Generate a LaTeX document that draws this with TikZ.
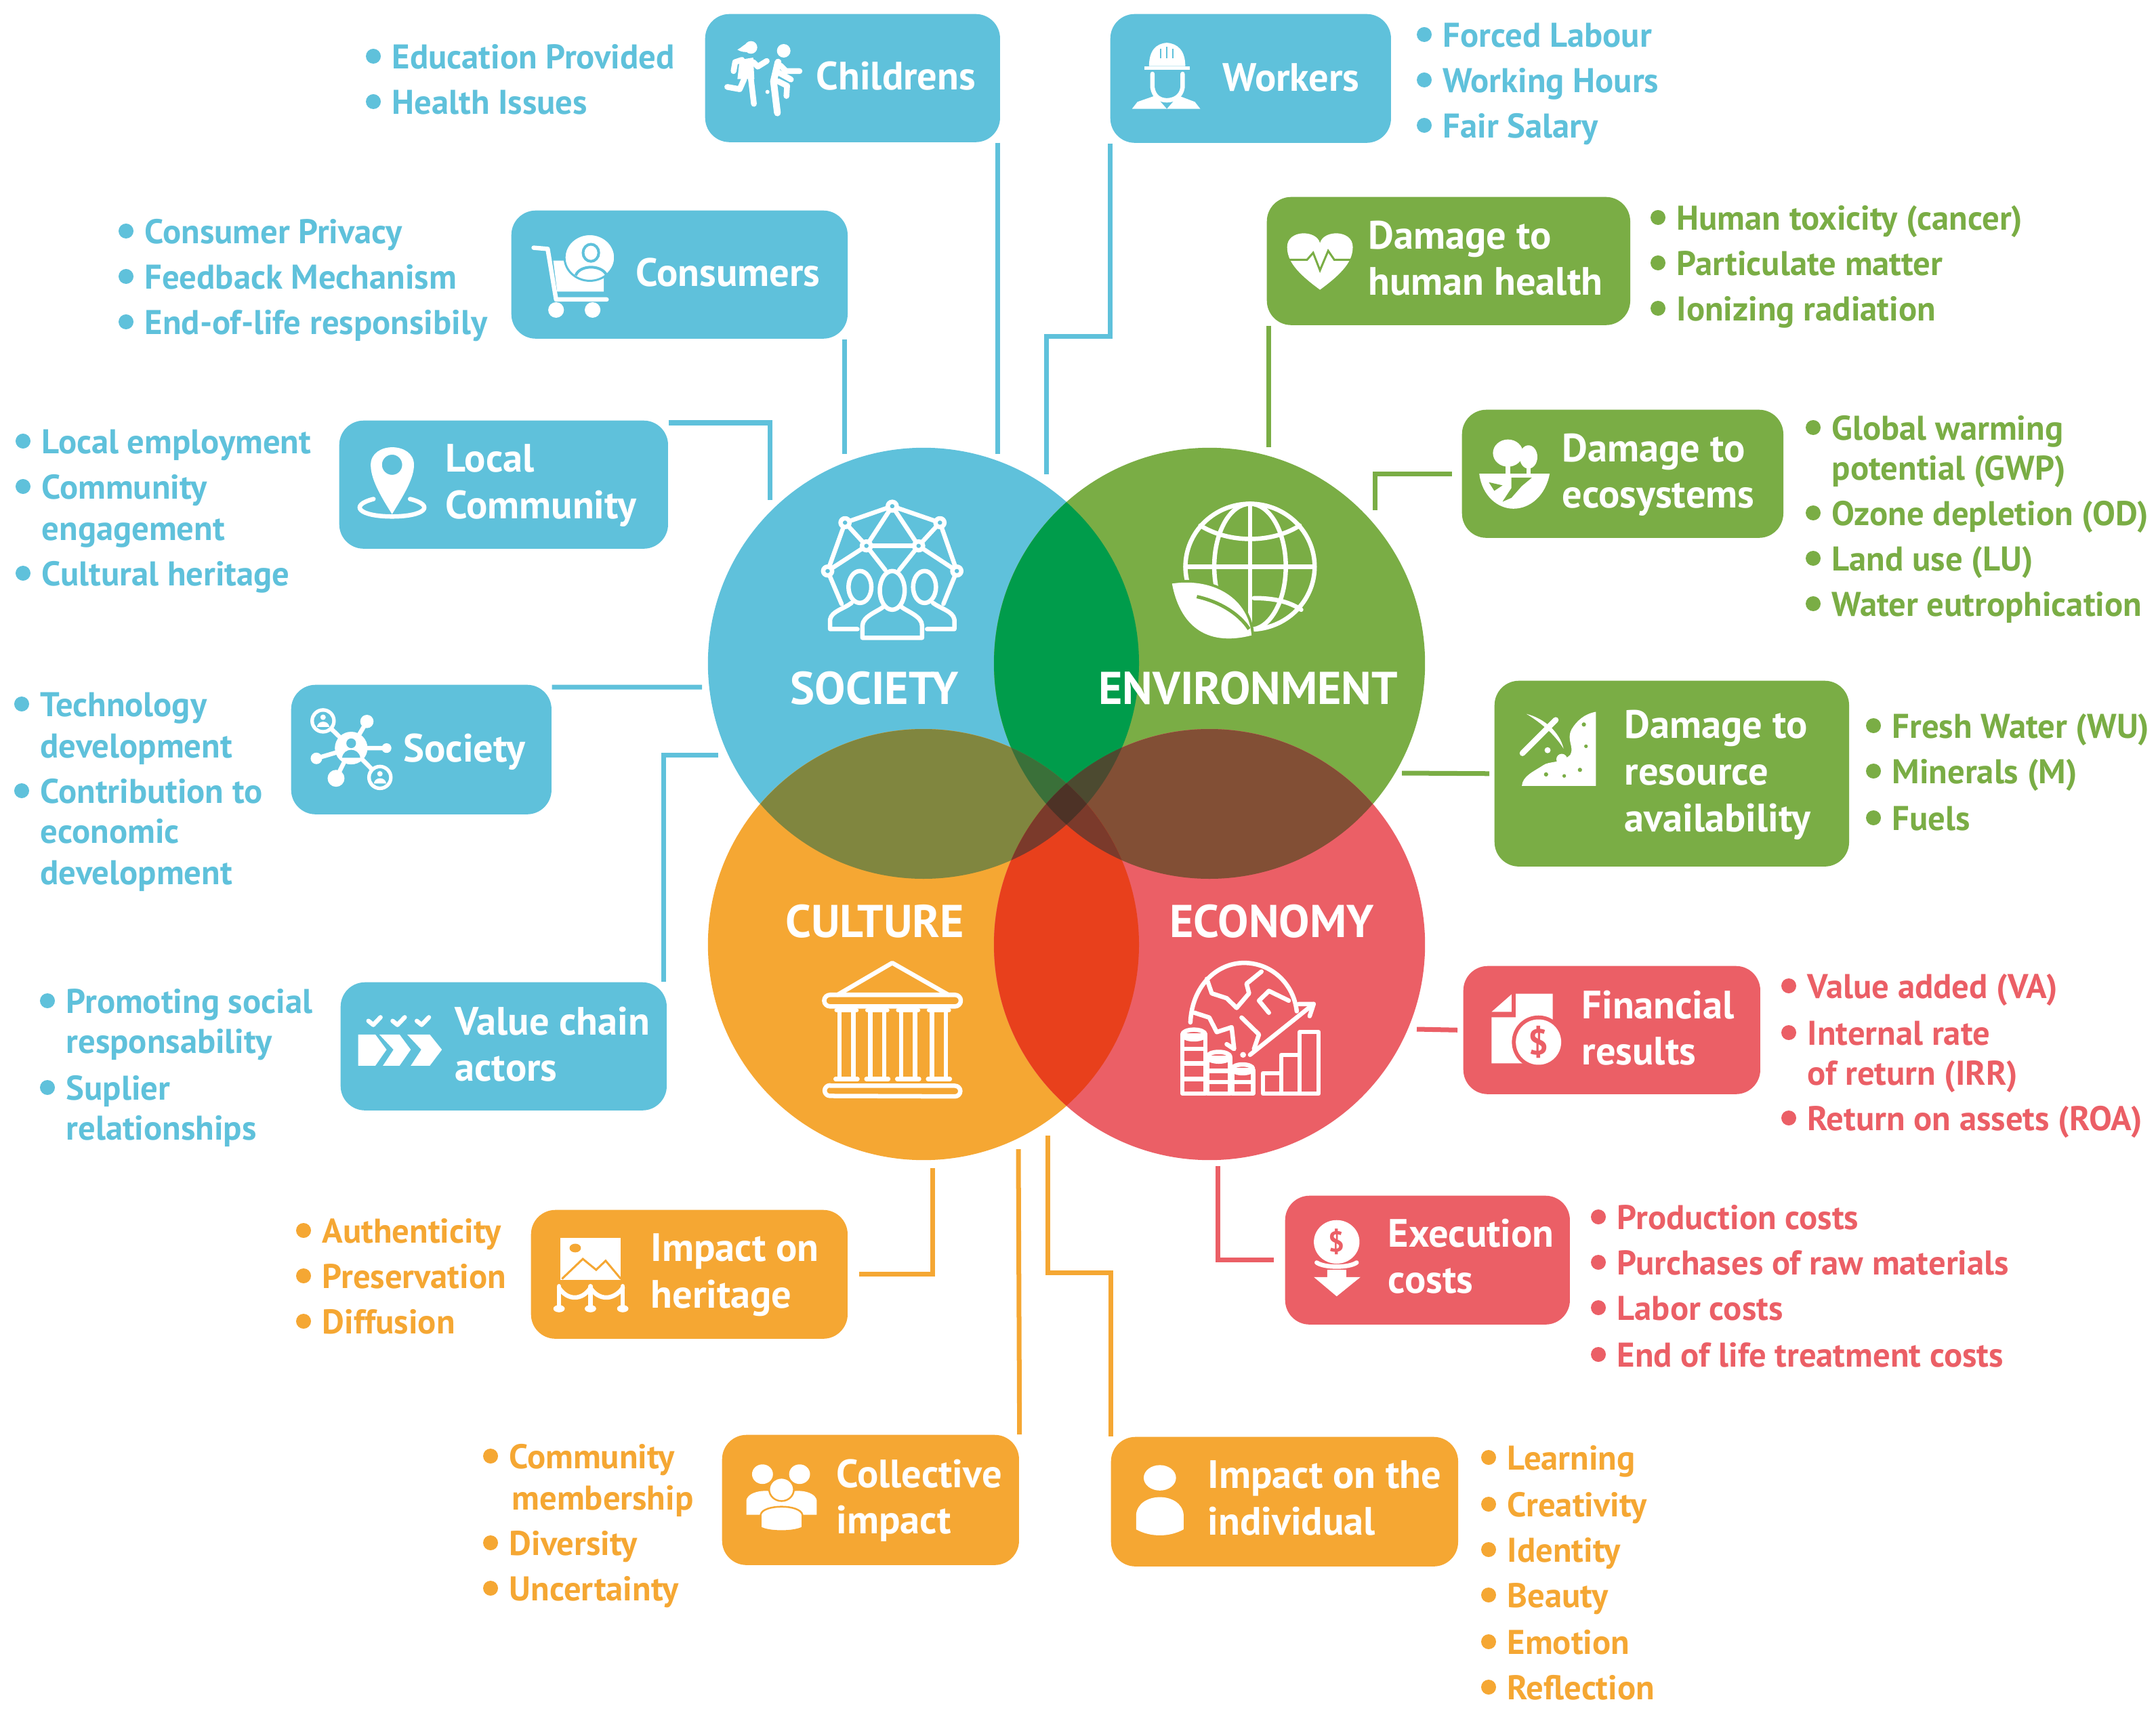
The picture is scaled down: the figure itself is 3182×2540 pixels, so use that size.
\documentclass[tikz,border=0pt]{standalone}
\usepackage{fontspec}
\usepackage{xcolor}
\setmainfont{PT Sans}
\usetikzlibrary{calc, positioning}

\definecolor{socblue}{HTML}{5FC1DB}
\definecolor{envgreen}{HTML}{7AAD45}
\definecolor{culorange}{HTML}{F5A733}
\definecolor{ecored}{HTML}{EB5F66}
\definecolor{lensse}{HTML}{009C4B}
\definecolor{lenssc}{HTML}{80863F}
\definecolor{lensee}{HTML}{824F35}
\definecolor{lensce}{HTML}{E8401C}
\definecolor{lobeleft}{HTML}{3A7039}
\definecolor{loberight}{HTML}{4C4A30}
\definecolor{lobelow}{HTML}{7B3A2B}
\definecolor{lobemid}{HTML}{4D3226}

\tikzset{
    sphere/.style={circle, inner sep=0pt, minimum size=6.36cm},
    card/.style={rectangle, rounded corners=0.36cm, inner sep=0pt, anchor=north west},
    cardtext/.style={anchor=west, inner sep=0pt, align=left, text=white, yshift=-0.07cm, font=\bfseries\fontsize{16.6}{19.5}\selectfont, execute at begin node=\strut, execute at end node=\strut},
    itemtext/.style={anchor=west, inner sep=0pt, align=left, yshift=-0.045cm, font=\bfseries\fontsize{14.4}{19.3}\selectfont, execute at begin node=\strut},
    headtext/.style={inner sep=0pt, text=white, yshift=-0.02cm, font=\bfseries\fontsize{19.3}{22}\selectfont},
    dotmark/.style={circle, inner sep=0pt, minimum size=0.22cm},
    link/.style={line width=0.07cm},
    ico/.style={draw=white, line width=0.065cm, line cap=round, line join=round},
    thick ico/.style={draw=white, line width=0.085cm, line cap=round, line join=round},
    zoomA/.style={shift={(1000,620)}, xscale=.7334, yscale=.714},
    zoomB/.style={xscale=.829, yscale=.574},
    zoomC/.style={shift={(1600,0)}, xscale=1.009, yscale=.574},
    zoomD/.style={shift={(400,1700)}, xscale=1.403, yscale=.5357},
    zoomE/.style={shift={(400,980)}, scale=.4464},
    zoomF/.style={shift={(2130,980)}, scale=.4464},
    zoomG/.style={shift={(1040,20)}, scale=.3333}
}

% name, colour, x, y, text
\newcommand{\bulleted}[5]{
    \node[dotmark, fill=#2] (#1dot) at (#3-27,#4) {};
    \node[itemtext, text=#2] (#1) at (#3,#4) {#5};
}
\newcommand{\carried}[5]{
    \node[itemtext, text=#2] (#1) at (#3,#4) {#5};
}
% first circle, second circle, colour
\newcommand{\lens}[3]{
    \begin{scope}
        \clip (#1.center) circle[radius=318];
        \fill[#3] (#2.center) circle[radius=318];
    \end{scope}
}
% three circles, colour
\newcommand{\threelens}[4]{
    \begin{scope}
        \clip (#1.center) circle[radius=318];
        \clip (#2.center) circle[radius=318];
        \fill[#4] (#3.center) circle[radius=318];
    \end{scope}
}

\begin{document}
\begin{tikzpicture}[x=0.01cm, y=-0.01cm]
    \useasboundingbox (0,0) rectangle (3182,2540);

    % the four circles
    \node[sphere, fill=socblue] (society) at (1363,979) {};
    \node[sphere, fill=envgreen] (environment) at (1785,979) {};
    \node[sphere, fill=culorange] (culture) at (1363,1394) {};
    \node[sphere, fill=ecored] (economy) at (1785,1394) {};

    \lens{society}{environment}{lensse}
    \lens{society}{culture}{lenssc}
    \lens{environment}{economy}{lensee}
    \lens{culture}{economy}{lensce}
    \threelens{society}{environment}{culture}{lobeleft}
    \threelens{society}{environment}{economy}{loberight}
    \threelens{society}{culture}{economy}{lobelow}
    \threelens{environment}{culture}{economy}{lobelow}
    \begin{scope}
        \clip (society.center) circle[radius=318];
        \clip (environment.center) circle[radius=318];
        \clip (culture.center) circle[radius=318];
        \fill[lobemid] (economy.center) circle[radius=318];
    \end{scope}

    \node[headtext] (societyhead) at (1291,1014) {SOCIETY};
    \node[headtext] (environmenthead) at (1842,1014) {ENVIRONMENT};
    \node[headtext] (culturehead) at (1291,1358) {CULTURE};
    \node[headtext] (economyhead) at (1877,1358) {ECONOMY};

    % society icon
    \begin{scope}[zoomA]
        \draw[ico] (432,178) -- (337,212) -- (380,260) -- (432,178) -- (528,212) -- (485,260) -- (432,178);
        \draw[ico] (380,260) -- (485,260);
        \draw[ico] (337,212) -- (302,312) -- (380,260) (528,212) -- (562,312) -- (485,260);
        \draw[ico] (380,260) -- (418,310) (485,260) -- (446,310);
        \draw[ico] (302,312) -- (330,380) (562,312) -- (535,380);
        \foreach \px/\py in {432/178, 337/212, 528/212, 380/260, 485/260, 302/312, 562/312} {
            \draw[ico, fill=socblue] (\px,\py) circle[radius=9];
        }
        \draw[ico] (432,352) ellipse[x radius=25, y radius=40];
        \draw[ico] (372,450) -- (372,425) .. controls (372,405) and (405,395) .. (415,385)
            (449,385) .. controls (460,395) and (492,405) .. (492,425) -- (492,450) -- (372,450);
        \draw[ico] (367,345) ellipse[x radius=23, y radius=33];
        \draw[ico] (362,432) -- (307,432) -- (307,412) .. controls (310,395) and (335,390) .. (350,378);
        \draw[ico] (497,345) ellipse[x radius=23, y radius=33];
        \draw[ico] (502,432) -- (557,432) -- (557,412) .. controls (554,395) and (530,390) .. (514,378);
    \end{scope}

    % environment icon
    \begin{scope}[zoomA]
        \draw[ico] (1152,303) circle[radius=130];
        \draw[ico] (1152,303) ellipse[x radius=72, y radius=130];
        \draw[ico] (1152,173) -- (1152,433);
        \draw[ico] (1022,303) -- (1282,303);
        \draw[ico] (1052,218) .. controls (1110,255) and (1195,255) .. (1252,218);
        \draw[ico] (1160,368) .. controls (1200,368) and (1230,375) .. (1255,392);
        \fill[white, draw=envgreen, line width=0.08cm] (995,338) .. controls (1080,325) and (1150,370) .. (1155,445)
            .. controls (1060,470) and (1010,420) .. (995,338);
        \fill[white] (995,338) .. controls (1080,325) and (1150,370) .. (1155,445)
            .. controls (1060,470) and (1010,420) .. (995,338);
        \draw[envgreen, line width=0.05cm] (1045,365) .. controls (1090,375) and (1130,400) .. (1150,432);
    \end{scope}

    % culture icon
    \begin{scope}[zoomA]
        \draw[ico] (322,1188) -- (432,1122) -- (545,1188);
        \draw[ico] (307,1188) -- (558,1188) arc[start angle=-90, end angle=90, radius=12] -- (307,1212) arc[start angle=90, end angle=270, radius=12];
        \foreach \cx in {340, 402, 464, 526} {
            \draw[ico] (\cx-20,1220) -- (\cx+20,1220);
            \draw[ico] (\cx-14,1222) -- (\cx-14,1358);
            \draw[ico] (\cx+14,1222) -- (\cx+14,1358);
            \draw[ico] (\cx-22,1362) -- (\cx+22,1362);
        }
        \draw[ico] (307,1376) -- (558,1376) arc[start angle=-90, end angle=90, radius=11] -- (307,1397) arc[start angle=90, end angle=270, radius=11];
    \end{scope}

    % economy icon
    \begin{scope}[zoomA]
        \draw[ico] (1032,1245) .. controls (1035,1170) and (1085,1122) .. (1140,1122) .. controls (1195,1122) and (1240,1165) .. (1246,1222);
        \draw[ico] (1065,1155) -- (1075,1185) -- (1105,1195) -- (1125,1215) -- (1150,1185) -- (1145,1165) -- (1175,1140);
        \draw[ico] (1040,1225) -- (1070,1235) -- (1085,1265) -- (1115,1255) -- (1120,1300) -- (1105,1290);
        \draw[ico] (1135,1235) -- (1170,1270) -- (1160,1300);
        \draw[ico] (1230,1200) -- (1190,1180) -- (1170,1200) -- (1190,1225);
        \draw[ico] (1152,1312) -- (1280,1207);
        \draw[ico] (1250,1207) -- (1280,1207) -- (1272,1232);
        \fill[white] (1138,1312) circle[radius=6];
        \draw[ico] (1016,1272) rectangle (1062,1392);
        \draw[ico] (1016,1300) -- (1062,1300) (1016,1330) -- (1062,1330) (1016,1362) -- (1062,1362);
        \draw[ico] (1039,1270) ellipse[x radius=23, y radius=10];
        \draw[ico] (1066,1318) rectangle (1112,1392);
        \draw[ico] (1066,1345) -- (1112,1345) (1066,1368) -- (1112,1368);
        \draw[ico] (1089,1316) ellipse[x radius=23, y radius=10];
        \draw[ico] (1116,1343) rectangle (1158,1392);
        \draw[ico] (1116,1368) -- (1158,1368);
        \draw[ico] (1137,1341) ellipse[x radius=21, y radius=9];
        \draw[ico] (1178,1350) rectangle (1215,1392);
        \draw[ico] (1215,1312) rectangle (1252,1392);
        \draw[ico] (1252,1265) rectangle (1290,1392);
    \end{scope}

    % top left boxes
    \node[card, fill=socblue, minimum width=4.35cm, minimum height=1.89cm] (childrens) at (1040,20) {};
    \node[cardtext] (childrenslabel) at (1204,112) {Childrens};
    \node[card, fill=socblue, minimum width=4.96cm, minimum height=1.89cm] (consumers) at (754,310) {};
    \node[cardtext] (consumerslabel) at (938,402) {Consumers};
    \node[card, fill=socblue, minimum width=4.85cm, minimum height=1.89cm] (localcomm) at (500,620) {};
    \node[cardtext] (localcommlabel) at (657,714) {Local\\Community};
    \node[card, fill=socblue, minimum width=3.84cm, minimum height=1.91cm] (societybox) at (429,1010) {};
    \node[cardtext] (societyboxlabel) at (595,1104) {Society};
    \node[card, fill=socblue, minimum width=4.81cm, minimum height=1.89cm] (valuechain) at (502,1449) {};
    \node[cardtext] (valuechainlabel) at (671,1544) {Value chain\\actors};
    \node[card, fill=socblue, minimum width=4.14cm, minimum height=1.90cm] (workers) at (1638,20) {};
    \node[cardtext] (workerslabel) at (1804,114) {Workers};

    % right boxes
    \node[card, fill=envgreen, minimum width=5.36cm, minimum height=1.89cm] (health) at (1869,290) {};
    \node[cardtext] (healthlabel) at (2019,384) {Damage to\\human health};
    \node[card, fill=envgreen, minimum width=4.74cm, minimum height=1.89cm] (ecosystems) at (2157,604) {};
    \node[cardtext] (ecosystemslabel) at (2305,698) {Damage to\\ecosystems};
    \node[card, fill=envgreen, minimum width=5.23cm, minimum height=2.74cm] (resource) at (2205,1004) {};
    \node[cardtext] (resourcelabel) at (2397,1141) {Damage to\\resource\\availability};
    \node[card, fill=ecored, minimum width=4.38cm, minimum height=1.89cm] (financial) at (2159,1425) {};
    \node[cardtext] (financiallabel) at (2334,1520) {Financial\\results};
    \node[card, fill=ecored, minimum width=4.20cm, minimum height=1.90cm] (execution) at (1896,1764) {};
    \node[cardtext] (executionlabel) at (2048,1857) {Execution\\costs};

    % bottom boxes
    \node[card, fill=culorange, minimum width=4.67cm, minimum height=1.90cm] (heritage) at (783,1785) {};
    \node[cardtext] (heritagelabel) at (960,1879) {Impact on\\heritage};
    \node[card, fill=culorange, minimum width=4.38cm, minimum height=1.92cm] (collective) at (1065,2117) {};
    \node[cardtext] (collectivelabel) at (1234,2212) {Collective\\impact};
    \node[card, fill=culorange, minimum width=5.12cm, minimum height=1.91cm] (individual) at (1639,2120) {};
    \node[cardtext] (individuallabel) at (1782,2214) {Impact on the\\individual};

    % free ends of the connectors
    \coordinate (childrensend) at (1472,670);
    \coordinate (consumersend) at (1246,670);
    \coordinate (localcommend) at (1136,738);
    \coordinate (societyboxend) at (1036,1014);
    \coordinate (valuechainend) at (1060,1114);
    \coordinate (workersend) at (1544,700);
    \coordinate (healthend) at (1872,660);
    \coordinate (ecosystemsend) at (2029,753);
    \coordinate (resourceend) at (2069,1141);
    \coordinate (financialend) at (2091,1519);
    \coordinate (executionend) at (1797,1721);
    \coordinate (heritageend) at (1376,1724);
    \coordinate (collectiveend) at (1503,1696);
    \coordinate (individualend) at (1546,1676);

    \draw[link, draw=socblue] (childrens.south -| childrensend) -- (childrensend);
    \draw[link, draw=socblue] (consumers.south -| consumersend) -- (consumersend);
    \draw[link, draw=socblue] ([yshift=-0.04cm]localcomm.north east) -| (localcommend);
    \draw[link, draw=socblue] ([yshift=-0.04cm]societybox.north east) -- (societyboxend);
    \draw[link, draw=socblue] (valuechain.north -| 979,0) |- (valuechainend);
    \draw[link, draw=socblue] (workers.south west) |- (1544,497) -- (workersend);
    \draw[link, draw=envgreen] (health.south -| healthend) -- (healthend);
    \draw[link, draw=envgreen] ([xshift=-0.14cm]ecosystems.west) -| (ecosystemsend);
    \draw[link, draw=envgreen] ([xshift=-0.07cm]resource.west) -- (resourceend);
    \draw[link, draw=ecored] ([xshift=-0.08cm]financial.west) -- (financialend);
    \draw[link, draw=ecored] ([xshift=-0.16cm]execution.west) -| (executionend);
    \draw[link, draw=culorange] ([xshift=0.16cm]heritage.east) -| (heritageend);
    \draw[link, draw=culorange] (collective.north east) -- (collectiveend);
    \draw[link, draw=culorange] (individual.north west) |- (1546,1878) -- (individualend);

    % lists, blue
    \bulleted{edu}{socblue}{578}{83}{Education Provided}
    \bulleted{hea}{socblue}{578}{150}{Health Issues}
    \bulleted{pri}{socblue}{213}{341}{Consumer Privacy}
    \bulleted{fee}{socblue}{213}{408}{Feedback Mechanism}
    \bulleted{eol}{socblue}{213}{475}{End-of-life responsibily}
    \bulleted{emp}{socblue}{61}{651}{Local employment}
    \bulleted{cme}{socblue}{61}{718}{Community}
    \carried{eng}{socblue}{61}{779}{engagement}
    \bulleted{cul}{socblue}{61}{846}{Cultural heritage}
    \bulleted{tec}{socblue}{59}{1039}{Technology}
    \carried{dev}{socblue}{59}{1100}{development}
    \bulleted{con}{socblue}{59}{1167}{Contribution to}
    \carried{ecn}{socblue}{59}{1226}{economic}
    \carried{dvl}{socblue}{59}{1287}{development}
    \bulleted{pro}{socblue}{97}{1477}{Promoting social}
    \carried{res}{socblue}{97}{1536}{responsability}
    \bulleted{sup}{socblue}{97}{1605}{Suplier}
    \carried{rel}{socblue}{97}{1664}{relationships}
    \bulleted{for}{socblue}{2129}{51}{Forced Labour}
    \bulleted{wor}{socblue}{2129}{118}{Working Hours}
    \bulleted{fai}{socblue}{2129}{185}{Fair Salary}

    % lists, green
    \bulleted{tox}{envgreen}{2474}{321}{Human toxicity (cancer)}
    \bulleted{par}{envgreen}{2474}{388}{Particulate matter}
    \bulleted{ion}{envgreen}{2474}{455}{Ionizing radiation}
    \bulleted{glo}{envgreen}{2703}{631}{Global warming}
    \carried{gwp}{envgreen}{2703}{690}{potential (GWP)}
    \bulleted{ozo}{envgreen}{2703}{757}{Ozone depletion (OD)}
    \bulleted{lan}{envgreen}{2703}{824}{Land use (LU)}
    \bulleted{wat}{envgreen}{2703}{891}{Water eutrophication}
    \bulleted{fre}{envgreen}{2792}{1071}{Fresh Water (WU)}
    \bulleted{min}{envgreen}{2792}{1138}{Minerals (M)}
    \bulleted{fue}{envgreen}{2792}{1207}{Fuels}

    % lists, red
    \bulleted{val}{ecored}{2667}{1455}{Value added (VA)}
    \bulleted{irr}{ecored}{2667}{1524}{Internal rate}
    \carried{ofr}{ecored}{2667}{1583}{of return (IRR)}
    \bulleted{roa}{ecored}{2667}{1650}{Return on assets (ROA)}
    \bulleted{prc}{ecored}{2386}{1796}{Production costs}
    \bulleted{pur}{ecored}{2386}{1863}{Purchases of raw materials}
    \bulleted{lab}{ecored}{2386}{1930}{Labor costs}
    \bulleted{end}{ecored}{2386}{1999}{End of life treatment costs}

    % lists, orange
    \bulleted{aut}{culorange}{475}{1816}{Authenticity}
    \bulleted{pre}{culorange}{475}{1883}{Preservation}
    \bulleted{dif}{culorange}{475}{1950}{Diffusion}
    \bulleted{com}{culorange}{751}{2149}{Community}
    \carried{mem}{culorange}{755}{2210}{membership}
    \bulleted{div}{culorange}{751}{2277}{Diversity}
    \bulleted{unc}{culorange}{751}{2344}{Uncertainty}
    \bulleted{lea}{culorange}{2224}{2151}{Learning}
    \bulleted{cre}{culorange}{2224}{2220}{Creativity}
    \bulleted{ide}{culorange}{2224}{2287}{Identity}
    \bulleted{bea}{culorange}{2224}{2354}{Beauty}
    \bulleted{emo}{culorange}{2224}{2423}{Emotion}
    \bulleted{ref}{culorange}{2224}{2490}{Reflection}

    % childrens
    \begin{scope}[zoomG]
        \fill[white] (205,150) circle[radius=28];
        \fill[white] (145,160) .. controls (165,150) and (175,135) .. (200,125) -- (200,170) .. controls (180,172) and (160,170) .. (145,160);
        \fill[white] (155,205) -- (215,195) -- (220,290) -- (145,290) -- cycle;
        \draw[thick ico] (165,205) -- (135,215) -- (128,255);
        \draw[thick ico] (215,215) -- (235,235) -- (275,210);
        \draw[thick ico] (175,290) -- (155,335) -- (100,325);
        \draw[thick ico] (205,290) -- (218,400);
        \fill[white] (350,165) circle[radius=30];
        \draw[thick ico, line width=0.1cm] (325,215) -- (305,300) -- (322,440);
        \draw[thick ico] (335,230) -- (360,255) -- (420,255);
        \draw[thick ico] (325,260) -- (382,292);
        \draw[thick ico] (325,300) -- (365,320) -- (362,365);
        \fill[white] (278,347) circle[radius=9];
    \end{scope}

    % consumers
    \begin{scope}[zoomB]
        \draw[ico] (950,637) -- (975,640) -- (990,770) -- (1080,770);
        \fill[white] (985,670) -- (1075,670) -- (1075,750) -- (992,750) -- cycle;
        \fill[white] (990,797) ellipse[x radius=14, y radius=20] (1055,797) ellipse[x radius=14, y radius=20];
        \fill[white, draw=socblue, line width=0.03cm] (1050,662) ellipse[x radius=45, y radius=60];
        \draw[draw=socblue, line width=0.04cm] (1052,650) ellipse[x radius=14, y radius=22];
        \draw[draw=socblue, line width=0.04cm] (1025,708) .. controls (1032,680) and (1072,680) .. (1080,708);
    \end{scope}

    % local community
    \begin{scope}[zoomB]
        \fill[white, even odd rule] (698,1322) .. controls (675,1270) and (660,1230) .. (660,1195)
            .. controls (660,1135) and (737,1135) .. (737,1195) .. controls (737,1230) and (720,1270) .. (698,1322) -- cycle
            (698,1195) ellipse[x radius=18, y radius=26];
        \draw[ico] (665,1283) .. controls (620,1300) and (640,1328) .. (698,1328) .. controls (756,1328) and (776,1300) .. (730,1283);
    \end{scope}

    % society box
    \begin{scope}[zoomE]
        \draw[ico] (265,278) -- (172,188) (265,278) -- (317,190) (265,278) -- (382,278) (265,278) -- (150,312) (265,278) -- (215,378) (265,278) -- (360,375);
        \fill[white] (265,278) circle[radius=54] (317,190) circle[radius=22] (382,278) circle[radius=16] (150,312) circle[radius=19] (215,378) circle[radius=28];
        \fill[white] (172,188) circle[radius=42] (360,375) circle[radius=42];
        \fill[socblue] (172,188) circle[radius=30] (360,375) circle[radius=30];
        \fill[white] (172,176) circle[radius=9] (360,363) circle[radius=9];
        \fill[white] (152,208) .. controls (155,185) and (190,185) .. (193,208) -- cycle;
        \fill[white] (340,395) .. controls (343,372) and (378,372) .. (381,395) -- cycle;
        \fill[socblue] (265,262) circle[radius=16];
        \fill[socblue] (235,310) .. controls (240,275) and (290,275) .. (295,310) -- cycle;
    \end{scope}

    % value chain
    \begin{scope}[zoomE]
        \draw[ico] (322,1180) -- (338,1193) -- (362,1168);
        \draw[ico] (402,1180) -- (418,1193) -- (442,1168);
        \draw[ico] (482,1180) -- (498,1193) -- (522,1168);
        \fill[white] (288,1225) -- (345,1225) -- (382,1275) -- (345,1328) -- (288,1328) -- cycle;
        \fill[white] (358,1225) -- (425,1225) -- (462,1275) -- (425,1328) -- (370,1328) -- (405,1275) -- cycle;
        \fill[white] (450,1225) -- (525,1225) -- (565,1275) -- (525,1328) -- (462,1328) -- (497,1275) -- cycle;
    \end{scope}

    % workers
    \begin{scope}[zoomC]
        \fill[white] (95,170) .. controls (95,130) and (105,112) .. (121,110) .. controls (137,112) and (148,130) .. (148,170) -- cycle;
        \fill[white] (88,170) rectangle (155,180);
        \draw[socblue, line width=0.025cm] (112,125) -- (112,150) (121,120) -- (121,150) (130,125) -- (130,150);
        \draw[ico] (100,190) -- (100,225) .. controls (102,250) and (112,258) .. (121,258) .. controls (130,258) and (142,250) .. (144,225) -- (144,190);
        \fill[white] (70,280) -- (78,262) -- (104,246) -- (121,280) -- cycle;
        \fill[white] (170,280) -- (162,262) -- (138,246) -- (121,280) -- cycle;
    \end{scope}

    % damage to human health
    \begin{scope}[zoomC]
        \fill[white] (345,745) .. controls (310,700) and (297,670) .. (297,635) .. controls (297,590) and (340,590) .. (345,625)
            .. controls (350,590) and (393,590) .. (393,635) .. controls (393,670) and (380,700) .. (345,745) -- cycle;
        \draw[envgreen, line width=0.03cm] (298,668) -- (326,668) -- (335,650) -- (345,695) -- (357,645) -- (366,668) -- (392,668);
    \end{scope}

    % damage to ecosystems
    \begin{scope}[zoomC]
        \fill[white] (620,1165) ellipse[x radius=22, y radius=35];
        \fill[white] (650,1175) ellipse[x radius=13, y radius=30];
        \draw[ico] (620,1180) -- (620,1230) (650,1190) -- (650,1225);
        \fill[white] (578,1218) .. controls (582,1275) and (605,1308) .. (628,1308) .. controls (652,1308) and (675,1275) .. (681,1218) -- cycle;
        \fill[envgreen] (625,1228) -- (655,1228) -- (640,1250) -- (625,1280) -- (612,1290) -- (625,1255) -- cycle;
        \fill[envgreen] (592,1240) -- (600,1262) -- (612,1248) -- cycle;
    \end{scope}

    % damage to resource availability
    \begin{scope}[zoomF]
        \fill[white] (505,158) -- (505,403) -- (260,403) .. controls (262,370) and (300,355) .. (330,335)
            .. controls (350,320) and (390,330) .. (420,300) .. controls (435,275) and (405,250) .. (425,215) .. controls (440,190) and (465,165) .. (505,158) -- cycle;
        \fill[envgreen] (340,365) circle[radius=7] (400,370) circle[radius=6] (452,350) circle[radius=7] (472,272) circle[radius=6] (465,200) circle[radius=7];
        \draw[thick ico] (262,295) -- (372,185);
        \fill[white] (275,165) .. controls (335,180) and (385,225) .. (398,280) .. controls (370,235) and (325,195) .. (275,165) -- cycle;
        \fill[white] (345,285) circle[radius=10] (392,315) circle[radius=18];
    \end{scope}

    % financial results
    \begin{scope}[zoomF]
        \fill[white] (240,1090) -- (362,1090) -- (362,1320) -- (160,1320) -- (160,1168) -- (240,1168) -- cycle;
        \fill[white] (160,1150) -- (226,1092) -- (226,1150) -- cycle;
        \fill[ecored] (315,1250) circle[radius=88];
        \fill[white] (315,1250) circle[radius=75];
        \node[text=ecored, font=\bfseries\fontsize{15}{15}\selectfont, inner sep=0pt] (dollara) at (315,1250) {\$};
    \end{scope}

    % execution costs
    \begin{scope}[zoomD]
        \fill[white] (1121,248) ellipse[x radius=24, y radius=60];
        \node[text=ecored, font=\bfseries\fontsize{12}{12}\selectfont, inner sep=0pt] (dollarb) at (1121,248) {\$};
        \draw[ico] (1100,305) .. controls (1108,320) and (1134,320) .. (1142,305);
        \fill[white] (1111,325) -- (1131,325) -- (1131,345) -- (1146,345) -- (1121,398) -- (1097,345) -- (1111,345) -- cycle;
    \end{scope}

    % impact on heritage
    \begin{scope}[zoomD]
        \fill[white] (304,237) rectangle (368,352);
        \draw[culorange, line width=0.03cm] (306,350) -- (328,295) -- (342,325) -- (352,300) -- (368,350);
        \fill[culorange] (320,265) ellipse[x radius=6, y radius=12];
        \draw[ico] (303,370) -- (303,428) (336,370) -- (336,428) (370,370) -- (370,428);
        \draw[ico] (303,375) .. controls (312,410) and (327,410) .. (336,375) .. controls (345,410) and (360,410) .. (370,375);
        \fill[white] (303,432) ellipse[x radius=6, y radius=10] (336,432) ellipse[x radius=6, y radius=10] (370,432) ellipse[x radius=6, y radius=10];
    \end{scope}

    % collective impact
    \begin{scope}[zoomD]
        \fill[white] (517,888) ellipse[x radius=11, y radius=27] (556,888) ellipse[x radius=11, y radius=27];
        \fill[white] (500,1000) -- (500,960) .. controls (502,930) and (530,925) .. (537,950) .. controls (545,925) and (572,930) .. (574,960) -- (574,1000) -- cycle;
        \fill[white, draw=culorange, line width=0.025cm] (537,930) ellipse[x radius=13, y radius=32];
        \fill[white, draw=culorange, line width=0.025cm] (515,1035) -- (515,1000) .. controls (517,970) and (557,970) .. (559,1000) -- (559,1035) .. controls (550,1048) and (524,1048) .. (515,1035) -- cycle;
    \end{scope}

    % impact on the individual
    \begin{scope}[zoomD]
        \fill[white] (935,898) ellipse[x radius=17, y radius=35];
        \fill[white] (910,1040) -- (910,1000) .. controls (912,935) and (958,935) .. (960,1000) -- (960,1040) .. controls (945,1062) and (925,1062) .. (910,1040) -- cycle;
    \end{scope}
\end{tikzpicture}
\end{document}
